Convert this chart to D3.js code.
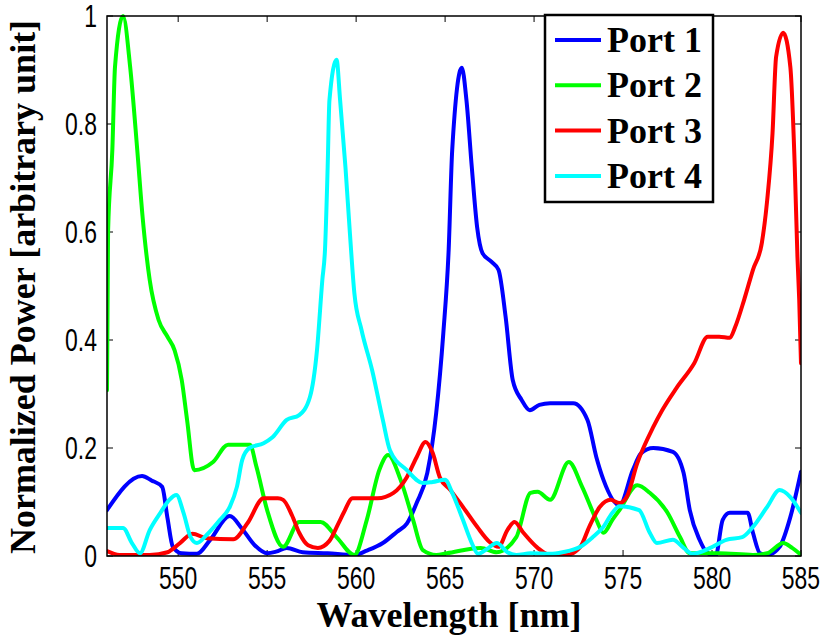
<!DOCTYPE html>
<html>
<head>
<meta charset="utf-8">
<script src="https://cdn.jsdelivr.net/npm/d3@7"></script>
<style>
  body { margin: 0; background: #fff; }
  svg { display: block; }
</style>
</head>
<body>
<div id="chart"></div>
<script>
// values, [wavelength nm, normalized power]
const port1 = [
  [546.0, 0.085], [547.97, 0.148], [548.5, 0.14], [549.1, 0.128], [549.4, 0.07], [549.7, 0.017],
  [550.2, 0.005], [551.05, 0.004], [551.8, 0.03], [552.9, 0.074], [553.6, 0.05], [554.3, 0.02],
  [555.0, 0.005], [555.5, 0.008], [556.1, 0.015], [557.0, 0.007], [558.4, 0.005], [559.9, 0.002],
  [560.6, 0.01], [561.5, 0.024], [562.3, 0.045], [562.85, 0.06], [563.4, 0.098], [564.0, 0.154],
  [564.5, 0.265], [564.9, 0.413], [565.2, 0.567], [565.4, 0.752], [565.94, 0.904], [566.2, 0.844],
  [566.5, 0.72], [566.8, 0.609], [567.1, 0.561], [567.6, 0.545], [568.0, 0.53], [568.4, 0.443],
  [568.8, 0.326], [569.3, 0.289], [569.76, 0.27], [570.3, 0.28], [570.9, 0.283], [572.2, 0.283],
  [573.0, 0.252], [573.5, 0.183], [573.9, 0.141], [574.8, 0.094], [575.55, 0.159], [576.0, 0.19],
  [576.7, 0.2], [577.8, 0.193], [578.4, 0.154], [578.75, 0.085], [579.3, 0.03], [579.7, 0.007],
  [580.2, 0.0], [580.6, 0.067], [581.0, 0.08], [582.0, 0.08], [582.3, 0.043], [582.7, 0.005],
  [583.1, 0.002], [583.8, 0.017], [584.4, 0.072], [585.0, 0.156]
];
const port2 = [
  [546.0, 0.307], [546.06, 0.6], [546.3, 0.752], [546.45, 0.906], [546.9, 1.0], [547.3, 0.906],
  [547.7, 0.752], [548.0, 0.628], [548.4, 0.511], [548.9, 0.437], [549.4, 0.406], [549.8, 0.381],
  [550.2, 0.326], [550.5, 0.252], [550.9, 0.159], [551.96, 0.174], [552.8, 0.206], [554.03, 0.206],
  [554.4, 0.165], [555.0, 0.085], [555.9, 0.017], [556.8, 0.063], [558.0, 0.063], [558.9, 0.035],
  [559.9, 0.002], [560.6, 0.067], [561.3, 0.159], [561.8, 0.187], [562.5, 0.141], [563.2, 0.067],
  [563.75, 0.011], [564.5, 0.002], [565.1, 0.005], [567.0, 0.015], [567.9, 0.007], [569.0, 0.035],
  [569.8, 0.117], [570.2, 0.119], [570.9, 0.104], [571.95, 0.174], [572.7, 0.128], [573.5, 0.067],
  [573.9, 0.043], [574.4, 0.067], [574.8, 0.085], [575.8, 0.131], [576.5, 0.117], [577.5, 0.08],
  [578.2, 0.035], [578.75, 0.005], [580.4, 0.005], [582.3, 0.002], [583.1, 0.005], [584.0, 0.024],
  [584.5, 0.015], [585.0, 0.002]
];
const port3 = [
  [546.0, 0.009], [546.7, 0.002], [548.4, 0.002], [549.4, 0.007], [550.1, 0.024], [550.8, 0.041],
  [551.6, 0.033], [553.1, 0.031], [553.9, 0.061], [554.8, 0.107], [555.6, 0.107], [555.9, 0.104],
  [556.4, 0.075], [556.8, 0.043], [557.3, 0.02], [557.85, 0.015], [558.5, 0.028], [559.0, 0.06],
  [559.3, 0.08], [559.8, 0.107], [561.2, 0.107], [562.1, 0.117], [562.85, 0.146], [563.4, 0.183],
  [563.9, 0.211], [564.3, 0.191], [564.7, 0.146], [565.3, 0.122], [566.0, 0.091], [566.8, 0.054],
  [567.5, 0.026], [568.0, 0.017], [568.5, 0.048], [568.9, 0.063], [569.4, 0.043], [570.2, 0.015],
  [570.9, 0.002], [571.8, 0.002], [572.6, 0.017], [573.1, 0.054], [573.7, 0.091], [574.3, 0.104],
  [574.8, 0.098], [575.2, 0.109], [575.8, 0.172], [576.7, 0.239], [577.2, 0.27], [578.0, 0.311],
  [579.0, 0.357], [579.76, 0.406], [580.4, 0.406], [581.0, 0.404], [581.3, 0.424], [581.8, 0.474],
  [582.3, 0.53], [582.8, 0.58], [583.1, 0.659], [583.4, 0.783], [583.6, 0.924], [584.0, 0.969],
  [584.4, 0.906], [584.65, 0.72], [584.8, 0.554], [584.9, 0.474], [585.0, 0.357]
];
const port4 = [
  [546.0, 0.052], [546.9, 0.052], [547.4, 0.024], [547.85, 0.005], [548.4, 0.048], [549.0, 0.08],
  [549.5, 0.104], [549.9, 0.113], [550.3, 0.08], [550.7, 0.035], [551.05, 0.024], [551.6, 0.039],
  [552.35, 0.067], [552.9, 0.091], [553.3, 0.128], [553.6, 0.178], [554.0, 0.2], [554.8, 0.209],
  [555.3, 0.22], [556.1, 0.252], [556.8, 0.261], [557.4, 0.294], [557.8, 0.381], [558.1, 0.511],
  [558.25, 0.567], [558.4, 0.72], [558.5, 0.844], [558.9, 0.919], [559.1, 0.844], [559.4, 0.72],
  [559.65, 0.598], [559.9, 0.487], [560.3, 0.419], [560.9, 0.344], [561.5, 0.252], [561.9, 0.196],
  [562.85, 0.159], [563.75, 0.135], [564.3, 0.137], [565.0, 0.141], [565.4, 0.117], [566.0, 0.067],
  [566.5, 0.024], [566.85, 0.004], [567.35, 0.013], [567.9, 0.024], [568.5, 0.007], [569.0, 0.002],
  [569.8, 0.005], [570.9, 0.004], [571.6, 0.007], [572.6, 0.017], [573.3, 0.035], [573.9, 0.054],
  [574.4, 0.08], [574.8, 0.092], [575.9, 0.085], [576.5, 0.043], [576.9, 0.024], [577.8, 0.03],
  [578.4, 0.015], [578.9, 0.004], [579.9, 0.015], [580.8, 0.03], [581.7, 0.035], [582.3, 0.054],
  [583.1, 0.091], [583.8, 0.122], [584.4, 0.109], [585.0, 0.08]
];

const seriesNames = ['Port 1', 'Port 2', 'Port 3', 'Port 4'];
const seriesColors = ['#0000ff', '#00ff00', '#ff0000', '#00ffff'];
const xTicks = [550, 555, 560, 565, 570, 575, 580, 585];
const yTicks = [0, 0.2, 0.4, 0.6, 0.8, 1];
const yTickLabels = ['0', '0.2', '0.4', '0.6', '0.8', '1'];

const width = 830;
const height = 639;
const margin = { top: 16, right: 29, bottom: 83, left: 107 };
const innerW = width - margin.left - margin.right;
const innerH = height - margin.top - margin.bottom;

const svg = d3.select('#chart')
  .append('svg')
  .attr('width', width)
  .attr('height', height);

const g = svg.append('g')
  .attr('transform', `translate(${margin.left},${margin.top})`);

const x = d3.scaleLinear().domain([546, 585]).range([0, innerW]);
const y = d3.scaleLinear().domain([0, 1]).range([innerH, 0]);

svg.append('defs').append('clipPath')
  .attr('id', 'plotClip')
  .append('rect')
  .attr('x', 0).attr('y', -2)
  .attr('width', innerW).attr('height', innerH + 2);

// tick labels: tall, narrow sans like the MATLAB export
const tickFont = '"Liberation Sans", Arial, sans-serif';
const squeeze = 0.74;

function narrow(sel) {
  sel.each(function() {
    const w = this.getComputedTextLength();
    d3.select(this)
      .attr('textLength', w * squeeze)
      .attr('lengthAdjust', 'spacingAndGlyphs');
  });
}

g.append('g')
  .selectAll('text')
  .data(xTicks)
  .enter()
  .append('text')
  .attr('x', d => x(d))
  .attr('y', innerH + 33)
  .attr('text-anchor', 'middle')
  .style('font-family', tickFont)
  .style('font-size', '31px')
  .text(d => d)
  .call(narrow);

g.append('g')
  .selectAll('text')
  .data(yTicks)
  .enter()
  .append('text')
  .attr('x', -10)
  .attr('y', d => y(d) + 11)
  .attr('text-anchor', 'end')
  .style('font-family', tickFont)
  .style('font-size', '31px')
  .text((d, i) => yTickLabels[i])
  .call(narrow);

// inward ticks on all four sides
const tickLen = 6;
const tickG = g.append('g').attr('stroke', '#000').attr('stroke-width', 1);
xTicks.forEach(t => {
  tickG.append('line').attr('x1', x(t)).attr('x2', x(t)).attr('y1', innerH).attr('y2', innerH - tickLen);
  tickG.append('line').attr('x1', x(t)).attr('x2', x(t)).attr('y1', 0).attr('y2', tickLen);
});
yTicks.forEach(t => {
  tickG.append('line').attr('x1', 0).attr('x2', tickLen).attr('y1', y(t)).attr('y2', y(t));
  tickG.append('line').attr('x1', innerW).attr('x2', innerW - tickLen).attr('y1', y(t)).attr('y2', y(t));
});

// curves
const line = d3.line()
  .x(d => x(d[0]))
  .y(d => y(d[1]))
  .curve(d3.curveMonotoneX);

const allSeries = [port1, port2, port3, port4];
const plot = g.append('g').attr('clip-path', 'url(#plotClip)');
allSeries.forEach((s, i) => {
  plot.append('path')
    .datum(s)
    .attr('d', line)
    .attr('fill', 'none')
    .attr('stroke', seriesColors[i])
    .attr('stroke-width', 4)
    .attr('stroke-linejoin', 'round')
    .attr('stroke-linecap', 'round');
});

// axes box
g.append('rect')
  .attr('x', 0).attr('y', 0)
  .attr('width', innerW).attr('height', innerH)
  .attr('fill', 'none')
  .attr('stroke', '#000')
  .attr('stroke-width', 1.5);

// axis titles
const titleFont = '"Liberation Serif", "Times New Roman", serif';
svg.append('text')
  .attr('x', margin.left + innerW / 2 - 5)
  .attr('y', 627)
  .attr('text-anchor', 'middle')
  .style('font-family', titleFont)
  .style('font-weight', 'bold')
  .style('font-size', '36px')
  .text('Wavelength [nm]');

svg.append('text')
  .attr('transform', `translate(35,${margin.top + innerH / 2 + 1}) rotate(-90)`)
  .attr('text-anchor', 'middle')
  .style('font-family', titleFont)
  .style('font-weight', 'bold')
  .style('font-size', '36px')
  .text('Normalized Power [arbitrary unit]');

// legend
const legend = svg.append('g').attr('transform', 'translate(545,15)');
legend.append('rect')
  .attr('x', 0).attr('y', 0)
  .attr('width', 168).attr('height', 187)
  .attr('fill', '#fff')
  .attr('stroke', '#000')
  .attr('stroke-width', 2.5);

seriesNames.forEach((name, i) => {
  const ly = 25 + i * 45.3;
  legend.append('line')
    .attr('x1', 10).attr('x2', 56)
    .attr('y1', ly).attr('y2', ly)
    .attr('stroke', seriesColors[i])
    .attr('stroke-width', 4);
  legend.append('text')
    .attr('x', 62)
    .attr('y', ly + 12)
    .style('font-family', titleFont)
    .style('font-weight', 'bold')
    .style('font-size', '36px')
    .text(name);
});
</script>
</body>
</html>
